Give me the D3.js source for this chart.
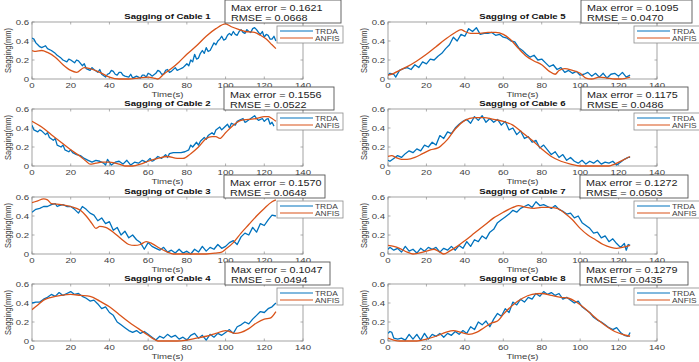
<!DOCTYPE html>
<html><head><meta charset="utf-8">
<script src="https://cdn.jsdelivr.net/npm/d3@7"></script>
<style>html,body{margin:0;padding:0;background:#fff;}svg{display:block;}</style>
</head><body>
<svg id="c" width="699" height="362"></svg>
<script>
const xTicks=[0,20,40,60,80,100,120,140];
const yTicks=[0,0.2,0.4,0.6];
const titles=["Sagging of Cable 1","Sagging of Cable 2","Sagging of Cable 3","Sagging of Cable 4","Sagging of Cable 5","Sagging of Cable 6","Sagging of Cable 7","Sagging of Cable 8"];
const maxErrors=["0.1621","0.1556","0.1570","0.1047","0.1095","0.1175","0.1272","0.1279"];
const rmses=["0.0668","0.0522","0.0648","0.0494","0.0470","0.0486","0.0503","0.0435"];
const seriesNames=["TRDA","ANFIS"];

const trda1=[[0,.43],[1,.42],[2,.38],[3,.36],[4,.34],[5,.33],[7,.35],[8,.32],[10,.30],[12,.27],[13,.25],[15,.22],[16,.2],[18,.18],[19,.21],[20,.2],[22,.17],[23,.2],[24,.19],[26,.14],[27,.16],[28,.11],[30,.09],[31,.12],[32,.1],[34,.07],[35,.1],[36,.05],[38,.02],[39,.05],[40,.06],[41,.09],[42,.08],[43,.05],[44,.04],[45,.07],[46,.07],[47,.04],[48,.03],[50,.02],[51,.05],[52,.01],[54,.03],[55,.02],[56,.01],[57,.04],[58,.04],[59,.02],[60,.06],[61,.05],[62,.03],[64,.06],[65,.09],[66,.08],[67,.05],[68,.05],[69,.09],[70,.10],[71,.07],[72,.08],[74,.12],[75,.09],[76,.10],[78,.12],[79,.14],[80,.16],[81,.14],[82,.20],[83,.18],[84,.26],[85,.21],[86,.22],[87,.27],[88,.30],[89,.27],[90,.33],[91,.29],[92,.30],[93,.34],[94,.38],[95,.36],[96,.40],[97,.42],[98,.45],[99,.41],[100,.42],[101,.46],[102,.48],[103,.46],[104,.50],[105,.47],[106,.46],[107,.50],[108,.52],[109,.49],[110,.48],[111,.52],[112,.50],[113,.49],[114,.53],[115,.54],[116,.52],[117,.49],[118,.47],[119,.50],[120,.44],[121,.47],[122,.46],[123,.42],[124,.42],[125,.45],[126,.40]];
const anfis1=[[0,.30],[2,.29],[5,.30],[8,.28],[12,.23],[16,.15],[20,.09],[23,.07],[27,.12],[30,.11],[35,.07],[40,.02],[45,0],[50,0],[55,.01],[60,.02],[63,.01],[65,0],[68,.05],[72,.11],[76,.18],[80,.26],[85,.35],[90,.45],[95,.53],[100,.58],[103,.55],[107,.52],[110,.50],[115,.49],[118,.46],[121,.42],[124,.36],[126,.32]];

const trda2=[[0,.43],[1,.38],[3,.36],[4,.38],[5,.37],[7,.33],[8,.35],[9,.30],[11,.27],[12,.29],[13,.22],[15,.20],[16,.22],[17,.17],[19,.15],[20,.17],[21,.14],[23,.12],[25,.11],[27,.08],[29,.06],[31,.04],[33,.06],[35,.05],[37,.03],[38,.01],[39,.07],[41,.01],[43,.04],[45,.05],[47,.02],[49,.06],[51,.01],[53,.04],[55,.03],[57,.06],[59,.04],[61,.08],[62,.05],[63,.06],[65,.10],[67,.08],[69,.12],[70,.09],[71,.13],[73,.14],[75,.14],[77,.14],[79,.15],[81,.17],[82,.22],[83,.20],[85,.25],[86,.22],[87,.26],[89,.30],[90,.28],[91,.32],[93,.35],[94,.33],[95,.38],[97,.41],[98,.38],[99,.40],[101,.44],[102,.40],[103,.45],[105,.43],[106,.47],[107,.48],[109,.50],[110,.46],[111,.47],[113,.50],[115,.53],[116,.50],[117,.48],[119,.50],[120,.47],[121,.49],[122,.50],[123,.44],[124,.46],[125,.42]];
const anfis2=[[0,.47],[5,.41],[10,.33],[15,.25],[20,.17],[25,.10],[28,.05],[30,.02],[33,.03],[36,.04],[40,.04],[45,.02],[48,0],[52,0],[56,.02],[60,.05],[65,.08],[70,.10],[75,.08],[78,.08],[82,.13],[86,.20],[90,.29],[93,.31],[95,.31],[97,.29],[100,.35],[104,.43],[108,.48],[112,.49],[116,.50],[120,.52],[122,.52],[124,.50],[126,.47]];

const trda3=[[0,.44],[2,.47],[4,.48],[6,.50],[8,.50],[10,.52],[12,.53],[13,.50],[14,.51],[16,.52],[18,.50],[20,.50],[22,.47],[24,.43],[26,.50],[28,.47],[30,.43],[32,.41],[34,.35],[36,.38],[38,.32],[40,.34],[42,.25],[44,.28],[46,.20],[48,.24],[50,.17],[52,.20],[54,.15],[56,.12],[58,.05],[60,.12],[62,.08],[64,.06],[66,.04],[68,.07],[70,.02],[72,.04],[74,.01],[76,.05],[78,.01],[80,.03],[82,0],[84,.05],[86,.02],[88,.08],[90,.03],[92,.07],[94,.05],[96,.10],[98,.06],[100,.08],[102,.12],[104,.14],[106,.10],[108,.18],[110,.22],[112,.20],[114,.28],[116,.23],[118,.32],[120,.30],[122,.36],[124,.41],[126,.40]];
const anfis3=[[0,.54],[3,.56],[6,.58],[8,.57],[10,.53],[15,.52],[20,.50],[25,.46],[28,.40],[31,.32],[33,.27],[35,.29],[38,.28],[42,.23],[46,.16],[50,.10],[53,.09],[56,.10],[59,.13],[62,.11],[66,.06],[70,.02],[73,0],[80,0],[90,0],[95,.01],[98,.02],[100,.05],[104,.12],[108,.22],[112,.31],[116,.40],[120,.48],[124,.55],[126,.57]];

const trda4=[[0,.40],[2,.41],[4,.41],[6,.44],[8,.46],[10,.49],[12,.47],[14,.51],[16,.48],[18,.50],[20,.52],[22,.49],[24,.50],[26,.47],[28,.45],[30,.42],[32,.43],[34,.39],[36,.34],[38,.36],[40,.30],[42,.27],[44,.20],[46,.17],[48,.14],[50,.11],[52,.09],[54,.11],[56,.08],[58,.10],[60,.07],[62,.04],[64,.01],[66,.05],[68,.03],[70,.07],[72,.04],[74,.06],[76,.02],[78,.04],[80,.01],[82,.06],[84,.08],[86,.03],[88,.06],[90,.01],[92,.07],[94,.04],[96,.08],[98,.06],[100,.09],[102,.12],[104,.08],[106,.15],[108,.17],[110,.20],[112,.18],[114,.23],[116,.27],[118,.31],[120,.30],[122,.34],[124,.36],[126,.40]];
const anfis4=[[0,.33],[3,.38],[6,.43],[10,.46],[15,.48],[20,.49],[25,.48],[30,.47],[35,.42],[40,.36],[45,.28],[50,.20],[55,.13],[60,.06],[63,.02],[65,0],[70,0],[75,0],[80,.01],[85,.03],[90,.05],[95,.08],[100,.11],[102,.10],[105,.08],[108,.09],[112,.13],[116,.19],[120,.23],[123,.24],[126,.31]];

const trda5=[[0,.04],[1,.06],[3,.05],[4,.02],[6,.09],[8,.11],[10,.12],[12,.10],[14,.15],[16,.12],[18,.18],[20,.16],[22,.21],[24,.20],[26,.24],[28,.27],[30,.32],[32,.36],[34,.44],[36,.40],[38,.47],[40,.45],[42,.53],[44,.50],[46,.54],[48,.47],[50,.48],[52,.48],[54,.49],[56,.46],[58,.47],[60,.44],[62,.43],[64,.40],[66,.39],[68,.33],[70,.30],[72,.26],[74,.23],[76,.25],[78,.20],[80,.21],[82,.17],[84,.13],[86,.15],[88,.10],[90,.12],[92,.07],[94,.09],[96,.06],[98,.08],[100,.04],[102,.05],[104,.07],[106,.03],[108,.06],[110,.02],[112,.06],[114,.01],[116,.05],[118,.06],[120,.03],[122,.07],[124,.02],[126,.04]];
const anfis5=[[0,.04],[3,.06],[6,.09],[10,.13],[15,.19],[20,.26],[25,.34],[30,.42],[35,.49],[38,.52],[40,.50],[43,.48],[48,.48],[52,.49],[56,.49],[60,.47],[64,.41],[68,.32],[72,.24],[76,.19],[80,.15],[84,.08],[87,.05],[89,.09],[92,.11],[96,.09],[100,.06],[103,.01],[106,0],[110,.02],[114,.01],[118,0],[121,0],[126,.02]];

const trda6=[[0,.06],[1,.05],[3,.08],[5,.11],[7,.09],[9,.13],[11,.16],[13,.14],[15,.18],[17,.16],[19,.22],[21,.20],[23,.25],[25,.22],[27,.32],[29,.29],[31,.36],[33,.34],[35,.40],[37,.44],[39,.47],[41,.49],[43,.45],[45,.52],[47,.48],[49,.53],[51,.46],[53,.50],[55,.46],[57,.49],[59,.43],[61,.47],[63,.38],[65,.40],[67,.33],[69,.37],[71,.29],[73,.31],[75,.25],[77,.27],[79,.19],[81,.22],[83,.17],[85,.12],[87,.15],[89,.09],[91,.12],[93,.06],[95,.09],[97,.05],[99,.03],[101,.06],[103,.02],[105,.05],[107,.03],[109,.06],[111,.02],[113,.04],[115,.03],[117,.05],[119,.01],[121,.04],[123,.07],[125,.09],[126,.09]];
const anfis6=[[0,.10],[2,.11],[4,.09],[7,.07],[10,.07],[14,.09],[18,.13],[22,.17],[26,.19],[28,.22],[31,.28],[35,.39],[40,.48],[45,.51],[50,.51],[55,.49],[60,.47],[65,.43],[70,.35],[75,.27],[80,.18],[85,.10],[90,.05],[95,.02],[100,0],[105,0],[110,0],[115,0],[118,.02],[122,.06],[126,.10]];

const trda7=[[0,.05],[1,.07],[3,.04],[5,.06],[7,.02],[9,.08],[11,.03],[13,.05],[15,.01],[17,.06],[19,.03],[21,.07],[23,.05],[25,.07],[27,.02],[29,.06],[31,.04],[33,.08],[35,.04],[37,.09],[39,.06],[41,.13],[43,.08],[45,.15],[47,.13],[49,.19],[51,.16],[53,.23],[55,.26],[57,.33],[59,.36],[61,.39],[63,.42],[65,.46],[67,.44],[69,.48],[71,.50],[73,.52],[75,.49],[77,.55],[79,.51],[81,.52],[83,.50],[85,.48],[87,.51],[89,.47],[91,.45],[93,.42],[95,.43],[97,.38],[99,.40],[101,.33],[103,.30],[105,.27],[107,.22],[109,.23],[111,.17],[113,.19],[115,.13],[117,.16],[119,.11],[121,.07],[123,.11],[124,.04],[125,.10],[126,.09]];
const anfis7=[[0,.09],[3,.08],[6,.06],[10,.02],[13,0],[16,.01],[20,.03],[24,.05],[27,.02],[29,0],[32,.03],[36,.08],[40,.14],[45,.22],[50,.30],[55,.38],[60,.44],[65,.49],[68,.51],[72,.49],[76,.48],[80,.49],[84,.49],[88,.48],[92,.43],[96,.36],[100,.27],[104,.20],[108,.15],[112,.10],[116,.07],[119,.06],[122,.07],[126,.09]];

const trda8=[[0,.08],[1,.10],[2,.09],[3,.03],[5,.02],[7,.03],[9,.01],[11,.07],[13,.02],[15,.07],[17,.01],[19,.08],[21,.02],[23,.07],[25,.05],[27,.08],[29,.04],[31,.08],[33,.06],[35,.10],[37,.07],[39,.11],[41,.08],[43,.15],[45,.12],[47,.20],[49,.17],[51,.21],[53,.15],[55,.23],[57,.29],[59,.26],[61,.34],[63,.30],[65,.41],[67,.38],[69,.44],[71,.41],[73,.46],[75,.44],[77,.50],[79,.47],[81,.52],[83,.49],[85,.51],[87,.48],[89,.50],[91,.44],[93,.46],[95,.43],[97,.40],[99,.42],[101,.36],[103,.33],[105,.30],[107,.25],[109,.22],[111,.20],[113,.17],[115,.14],[117,.12],[119,.14],[121,.09],[123,.06],[125,.05],[126,.09]];
const anfis8=[[0,.03],[3,.01],[6,0],[10,0],[15,0],[20,.02],[25,.05],[30,.09],[34,.11],[38,.09],[42,.07],[46,.09],[50,.14],[54,.19],[57,.21],[60,.28],[65,.38],[70,.45],[75,.49],[80,.50],[85,.48],[90,.46],[94,.45],[98,.41],[102,.35],[106,.28],[110,.21],[114,.15],[118,.10],[122,.07],[126,.05]];

const trdaAll=[trda1,trda2,trda3,trda4,trda5,trda6,trda7,trda8];
const anfisAll=[anfis1,anfis2,anfis3,anfis4,anfis5,anfis6,anfis7,anfis8];

// layout
const SX=1.2;
const FONT="'Liberation Sans', Arial, sans-serif";
const colLeft=[32,388], colW=[271,269];
const rowTop=[22,109,197,284], plotH=57;
const statBox=[[225,116],[224,110],[224,101],[225,105],[581,111],[581,107],[580,108],[580,108]];
const legendX=[277,634];
const BLUE="#0072BD", ORANGE="#D95319";
const AX="#8c8c8c";

const svg=d3.select("#c");
svg.append("rect").attr("width",699).attr("height",362).attr("fill","#fff");

function txt(g,x,y,s,size,opts={}){
  const t=g.append("text").attr("transform",`translate(${x},${y}) scale(${SX},1)`+(opts.rot?` rotate(${opts.rot})`:""))
    .attr("font-family",FONT).attr("font-size",size).attr("fill",opts.fill||"#404040")
    .attr("text-anchor",opts.anchor||"start").text(s);
  if(opts.bold) t.attr("font-weight","bold");
  return t;
}

for(let i=0;i<8;i++){
  const col=i<4?0:1, row=i%4;
  const x0=colLeft[col], w=colW[col], y0=rowTop[row];
  const x=d3.scaleLinear().domain([0,140]).range([x0,x0+w]);
  const y=d3.scaleLinear().domain([0,0.6]).range([y0+plotH,y0]);
  const g=svg.append("g");
  g.append("rect").attr("x",x0).attr("y",y0).attr("width",w).attr("height",plotH)
    .attr("fill","#fff").attr("stroke",AX).attr("stroke-width",0.8);
  xTicks.forEach(t=>{
    g.append("line").attr("x1",x(t)).attr("x2",x(t)).attr("y1",y0+plotH).attr("y2",y0+plotH-2.5).attr("stroke",AX).attr("stroke-width",0.7);
    g.append("line").attr("x1",x(t)).attr("x2",x(t)).attr("y1",y0).attr("y2",y0+2.5).attr("stroke",AX).attr("stroke-width",0.7);
    txt(g,x(t),y0+plotH+9,String(t),8,{anchor:"middle"});
  });
  yTicks.forEach(v=>{
    g.append("line").attr("x1",x0).attr("x2",x0+2.5).attr("y1",y(v)).attr("y2",y(v)).attr("stroke",AX).attr("stroke-width",0.7);
    g.append("line").attr("x1",x0+w).attr("x2",x0+w-2.5).attr("y1",y(v)).attr("y2",y(v)).attr("stroke",AX).attr("stroke-width",0.7);
    txt(g,x0-3,y(v)+3,String(v),8,{anchor:"end"});
  });
  const clipId="clip"+i;
  svg.append("clipPath").attr("id",clipId).append("rect").attr("x",x0).attr("y",y0-2).attr("width",w).attr("height",plotH+4);
  const lineT=d3.line().x(d=>x(d[0])).y(d=>y(d[1]));
  const lineA=d3.line().x(d=>x(d[0])).y(d=>y(d[1])).curve(d3.curveMonotoneX);
  g.append("path").datum(trdaAll[i]).attr("d",lineT).attr("fill","none").attr("stroke",BLUE).attr("stroke-width",1.3).attr("stroke-linejoin","round").attr("clip-path",`url(#${clipId})`);
  g.append("path").datum(anfisAll[i]).attr("d",lineA).attr("fill","none").attr("stroke",ORANGE).attr("stroke-width",1.3).attr("clip-path",`url(#${clipId})`);
  txt(g,x0+w/2,y0-3,titles[i],8,{anchor:"middle",bold:true,fill:"#111"});
  txt(g,x0+w/2,y0+plotH+18,"Time(s)",8,{anchor:"middle"});
  txt(g,col===0?11:367,y0+plotH/2,"Sagging(mm)",7.5,{anchor:"middle",rot:-90});
  const lx=legendX[col], ly=y0+4;
  const lg=svg.append("g");
  lg.append("rect").attr("x",lx).attr("y",ly).attr("width",66).attr("height",17).attr("fill","#fff").attr("stroke",AX).attr("stroke-width",0.8);
  [BLUE,ORANGE].forEach((c,k)=>{
    const yy=ly+5+k*7;
    lg.append("line").attr("x1",lx+3).attr("x2",lx+36).attr("y1",yy).attr("y2",yy).attr("stroke",c).attr("stroke-width",1.2);
    txt(lg,lx+38,yy+2.5,seriesNames[k],7,{});
  });
}
for(let i=0;i<8;i++){
  const row=i%4;
  const top=rowTop[row]-22;
  const [bx,bw]=statBox[i];
  const sg=svg.append("g");
  sg.append("rect").attr("x",bx).attr("y",top).attr("width",bw).attr("height",23).attr("fill","#fff").attr("stroke","#555").attr("stroke-width",0.9);
  txt(sg,bx+6,top+11,"Max error = "+maxErrors[i],9,{fill:"#222"});
  txt(sg,bx+6,top+21,"RMSE = "+rmses[i],9,{fill:"#222"});
}
</script>
</body></html>
